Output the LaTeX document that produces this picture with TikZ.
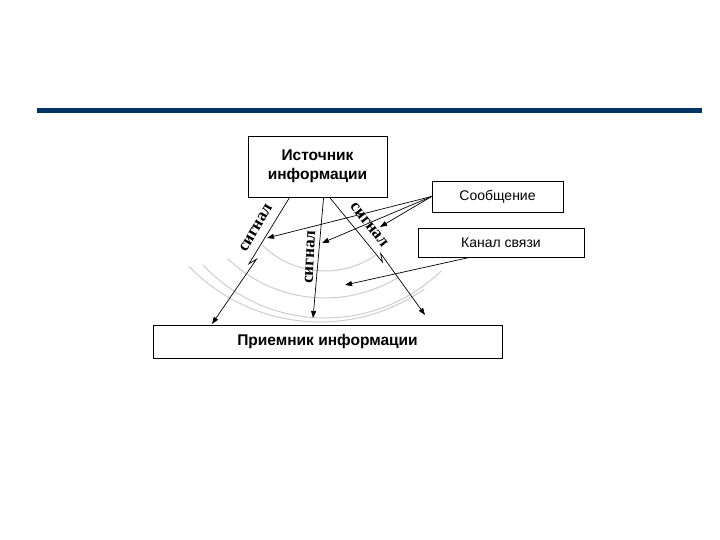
\documentclass[tikz,border=0pt]{standalone}
\usepackage{fontspec}
\setmainfont{Liberation Sans}
\newfontfamily\lblfont{Liberation Serif}
\usetikzlibrary{arrows.meta,calc}
\definecolor{barblue}{RGB}{0,51,102}
\definecolor{arcgray}{RGB}{205,205,205}
\begin{document}
\begin{tikzpicture}[x=1pt,y=-1pt,
  box/.style={draw=black,line width=0.8pt,fill=white,inner sep=0pt,align=center},
  arr/.style={draw=black,line width=0.7pt,-{Triangle[length=7pt,width=5pt]}},
  wave/.style={draw=arcgray,line width=1pt},
  siglbl/.style={font=\lblfont\bfseries\fontsize{17}{17}\selectfont,inner sep=0pt}]
\useasboundingbox (0,0) rectangle (720,540);
% top bar
\fill[barblue] (37,108) rectangle (702,113);
% arcs
\draw[wave] plot[domain=55:135,samples=40] ({325+89*cos(\x)},{182+89*sin(\x)});
\draw[wave] plot[domain=58:134,samples=40] ({325+140*cos(\x)},{158+140*sin(\x)});
\draw[wave] plot[domain=46:137,samples=40] ({325+167*cos(\x)},{151+167*sin(\x)});
\draw[wave] plot[domain=55:136,samples=40] ({320+182*cos(\x)},{140+182*sin(\x)});
% boxes
\node[box,minimum width=139pt,minimum height=61pt,font=\bfseries\fontsize{15.5}{19}\selectfont] (src) at (317.5,166.5) {Источник\\информации};
\node[box,minimum width=131pt,minimum height=31pt,font=\fontsize{14}{16}\selectfont] (msg) at (497.5,196.5) {Сообщение};
\node[box,minimum width=166pt,minimum height=29pt,font=\fontsize{14}{16}\selectfont] (chan) at (501,242.5) {Канал связи};
\node[box,minimum width=349pt,minimum height=33pt,font=\bfseries\fontsize{15.5}{18}\selectfont] (rcv) at (327.5,341.5) {Приемник информации};
% start points on source box
\coordinate (sL) at ($(src.south west)+(42,0)$);
\coordinate (sM) at ($(src.south west)+(76,0)$);
\coordinate (sR) at ($(src.south west)+(82,0)$);
% end points
\coordinate (eL) at (212,324);
\coordinate (eM) at (313,318);
\coordinate (eR) at (425,315);
% zigzag points
\coordinate (zL1) at (248.9,263.9);
\coordinate (zL2) at (256.5,259.2);
\coordinate (zR1) at (382.5,262.1);
\coordinate (zR2) at (380.6,253.4);
\draw[arr] (sL) -- (zL1) -- (zL2) -- (eL);
\draw[arr] (sM) -- (eM);
\draw[arr] (sR) -- (zR1) -- (zR2) -- (eR);
% message arrows
\coordinate (m1) at (267,238);
\coordinate (m2) at (322,243);
\coordinate (m3) at (380,227);
\draw[arr] (msg.west) -- (m1);
\draw[arr] (msg.west) -- (m2);
\draw[arr] (msg.west) -- (m3);
% channel arrow
\coordinate (cs) at ($(chan.south west)+(52,0)$);
\coordinate (ce) at (345,285);
\draw[arr] (cs) -- (ce);
% signal labels
\node[siglbl,rotate=60] (lab1) at (256,228) {сигнал};
\node[siglbl,rotate=87] (lab2) at (310,257) {сигнал};
\node[siglbl,rotate=-52] (lab3) at (369,225) {сигнал};
\end{tikzpicture}
\end{document}
